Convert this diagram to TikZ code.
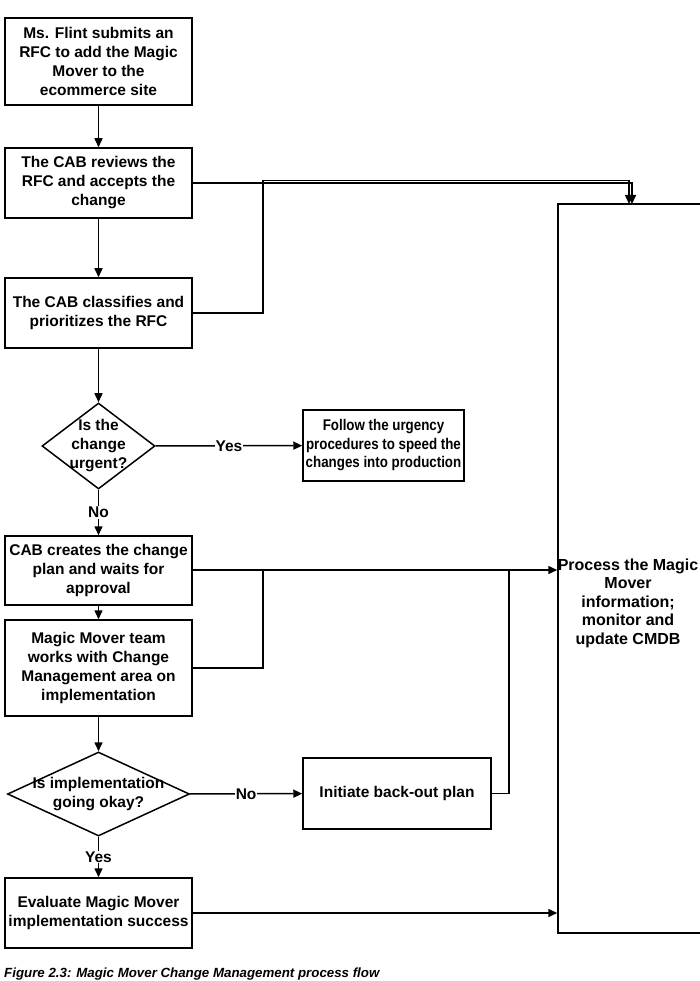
\documentclass[tikz,border=0pt]{standalone}
\usepackage{fontspec}
\setmainfont{Liberation Sans}
\newfontfamily\narrowsans[FakeStretch=0.86]{Liberation Sans}
\usetikzlibrary{arrows.meta,shapes.geometric,calc}
\tikzset{
  ln/.style={line width=1.5pt},
  arr/.style={ln, -{Triangle[length=9pt,width=8pt]}},
  box/.style={draw, ln, align=center, inner sep=2pt, font=\bfseries\fontsize{15.5}{19}\selectfont},
  dia/.style={draw, ln, diamond, inner sep=0pt},
  diatext/.style={align=center, inner sep=0pt, font=\bfseries\fontsize{15.5}{19}\selectfont},
  lab/.style={fill=white, inner sep=1pt, font=\bfseries\fontsize{15.5}{19}\selectfont},
}
\begin{document}
\begin{tikzpicture}[x=1pt,y=-1pt]
\useasboundingbox (0,0) rectangle (699,981);
\fill[white] (0,0) rectangle (699,981);

\node[box, minimum width=187pt, minimum height=87pt] (b1) at (98.5,61.5)
  {Ms. Flint submits an\\RFC to add the Magic\\Mover to the\\ecommerce site};
\node[box, minimum width=187pt, minimum height=70pt] (b2) at (98.5,183)
  {The CAB reviews the\\RFC and accepts the\\change};
\node[box, minimum width=187pt, minimum height=70pt] (b3) at (98.5,313)
  {The CAB classifies and\\prioritizes the RFC};
\node[dia, minimum width=113pt, minimum height=86pt] (d1) at (98.5,446) {};
\node[diatext] (d1t) at (d1) {Is the\\change\\urgent?};
\node[box, minimum width=161pt, minimum height=71pt, font=\narrowsans\bfseries\fontsize{15.5}{18.5}\selectfont] (fo) at (383.5,445.5)
  {Follow the urgency\\procedures to speed the\\changes into production};
\node[box, minimum width=187pt, minimum height=69pt] (b5) at (98.5,570.5)
  {CAB creates the change\\plan and waits for\\approval};
\node[box, minimum width=187pt, minimum height=96pt] (b6) at (98.5,668)
  {Magic Mover team\\works with Change\\Management area on\\implementation};
\node[dia, minimum width=182pt, minimum height=84pt] (d2) at (98.5,794) {};
\node[diatext] (d2t) at (d2) {Is implementation\\going okay?};
\node[box, minimum width=188pt, minimum height=71pt] (bo) at (397,793.5)
  {Initiate back-out plan};
\node[box, minimum width=187pt, minimum height=70pt] (ev) at (98.5,913)
  {Evaluate Magic Mover\\implementation success};
\node[draw, ln, minimum width=152pt, minimum height=729pt, inner sep=0pt] (rb) at (634,568.5) {};
\node[align=center, inner sep=0pt, font=\bfseries\fontsize{16}{18.5}\selectfont] (rbt) at (628,603)
  {Process the Magic\\Mover\\information;\\monitor and\\update CMDB};

\node[anchor=base west, inner sep=0pt, font=\bfseries\itshape\fontsize{13.3}{16}\selectfont] (cap) at (4,977.5)
  {Figure 2.3: Magic Mover Change Management process flow};

% vertical flow
\draw[arr] (b1) -- (b2);
\draw[arr] (b2) -- (b3);
\draw[arr] (b3) -- (d1);
\draw[arr] (d1) -- node[lab] {No} (b5);
\draw[arr] (d1) -- node[lab] {Yes} (fo);
\draw[arr] (b5) -- (b6);
\draw[arr] (b6) -- (d2);
\draw[arr] (d2) -- node[lab] {No} (bo);
\draw[arr] (d2) -- node[lab] {Yes} (ev);

% links to the right box
\coordinate (inA) at (632,204);
\coordinate (inB) at (629,204);
\coordinate (jB) at (263,180.5);
\coordinate (jC) at (263,570);
\coordinate (jD) at (509,570);
\draw[arr] (b2.east) -| (inA);
\draw[arr] (b3.east) -| (jB) -| (inB);
\draw[arr] (b5.east |- jC) -- (jC -| rb.west);
\draw[ln] (b6.east) -| (jC);
\draw[ln] (bo.east) -| (jD);
\draw[arr] (ev.east) -- (ev.east -| rb.west);
\end{tikzpicture}
\end{document}
